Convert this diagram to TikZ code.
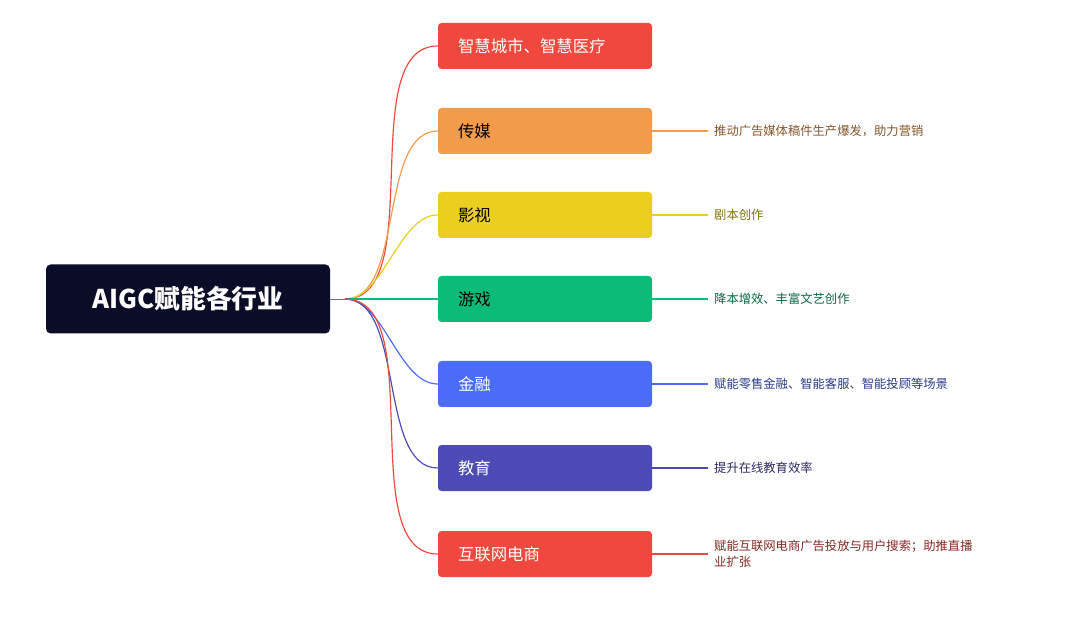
\documentclass[tikz,border=0pt]{standalone}
\usepackage{fontspec}
\newfontfamily\cjk{Noto Sans CJK SC}
\usepackage{tikz}
\usetikzlibrary{calc}
\definecolor{cRed}{HTML}{F0483E}
\definecolor{cOrange}{HTML}{F29B4A}
\definecolor{cYellow}{HTML}{EBCF1F}
\definecolor{cGreen}{HTML}{0DBB78}
\definecolor{cBlue}{HTML}{4A6CF7}
\definecolor{cIndigo}{HTML}{4B4BB3}
\definecolor{cNavy}{HTML}{0B0C28}
\tikzset{
  branch/.style={rounded corners=3pt, minimum width=214*0.03cm, minimum height=46*0.03cm,
    inner xsep=0.6cm, text width=214*0.03cm-1.2cm, align=left, font=\cjk\fontsize{14}{16}\selectfont},
  leaf/.style={anchor=west, align=left, inner sep=0pt, font=\cjk\fontsize{10.5}{14}\selectfont},
}
\begin{document}
\begin{tikzpicture}[x=0.03cm, y=-0.03cm]
  \useasboundingbox (0,0) rectangle (1079,623);
  \node[fill=cNavy, rounded corners=4pt, minimum width=284*0.03cm, minimum height=69*0.03cm,
    text=white, font=\cjk\bfseries\fontsize{22}{24}\selectfont] (root) at (188,299) {AIGC赋能各行业};
  \coordinate (hub) at (345,299);
  \draw[cNavy!60, line width=0.8pt] (root.east) -- (hub);
  \foreach \i/\y/\c/\t/\txt/\lbl in {
      1/46/cRed/white/智慧城市、智慧医疗/,
      2/131/cOrange/black/传媒/推动广告媒体稿件生产爆发，助力营销,
      3/215/cYellow/black/影视/剧本创作,
      4/299/cGreen/black/游戏/降本增效、丰富文艺创作,
      5/384/cBlue/white/金融/赋能零售金融、智能客服、智能投顾等场景,
      6/468/cIndigo/white/教育/提升在线教育效率,
      7/554/cRed/white/互联网电商/{赋能互联网电商广告投放与用户搜索；助推直播\\业扩张}} {
    \node[branch, fill=\c, text=\t] (b\i) at (545,\y) {\txt};
    \draw[\c, line width=1pt] (hub) to[out=0, in=180, looseness=0.8] (b\i.west);
    \ifx\lbl\empty\else
      \coordinate (e\i) at (708,\y);
      \draw[\c, line width=1pt] (b\i.east) -- (e\i);
      \node[leaf, text=\c!55!black] (l\i) at ($(e\i)+(6,0)$) {\lbl};
    \fi
  }
\end{tikzpicture}
\end{document}
